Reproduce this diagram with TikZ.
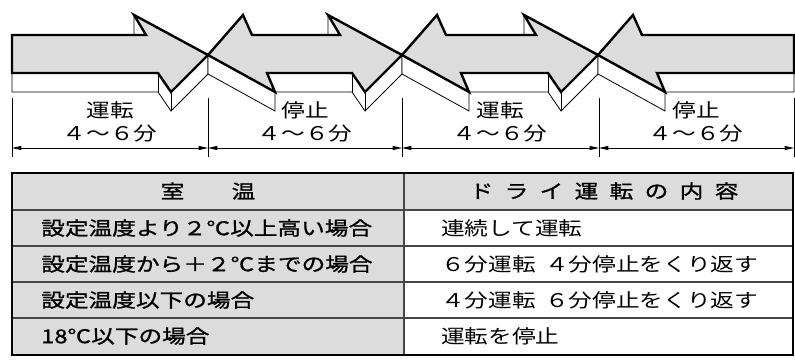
\documentclass[tikz,border=0pt]{standalone}
\usepackage{fontspec}
\usetikzlibrary{positioning}
\usetikzlibrary{arrows.meta}
\newfontfamily\jp{Noto Sans CJK JP}[FakeStretch=1.25]
\newfontfamily\jpb{Noto Sans CJK JP}[FakeStretch=1.25,FakeBold=1.2]
\definecolor{face}{RGB}{220,220,220}
\definecolor{rule}{RGB}{70,70,70}
\tikzstyle{top face} = [fill=face, draw, line width=1.8pt]
\tikzstyle{side face} = [fill=white, draw, line width=0.6pt]
\tikzstyle{thin} = [draw, line width=0.6pt]
\tikzstyle{span} = [<->, >={Triangle[length=7pt,width=3pt]}, draw, line width=0.6pt]
\tikzstyle{timetext} = [font=\jp\fontsize{14.2}{17}\selectfont, inner sep=0pt]
\tikzstyle{celltext} = [font=\jp\fontsize{14.2}{17}\selectfont, inner sep=0pt, anchor=west]
\tikzstyle{casetext} = [font=\jpb\fontsize{14.2}{17}\selectfont, inner sep=0pt, anchor=west]
\tikzstyle{headtext} = [font=\jpb\fontsize{14.2}{17}\selectfont, inner sep=0pt]

\begin{document}
\begin{tikzpicture}[x=0.75pt, y=-0.75pt, node distance=4pt]
        \useasboundingbox (0,0) rectangle (795,360);

        % sides of the arrows
        \draw[side face] (12,73) -- (12,92) -- (158,92) -- (171,111) -- (208,74) -- (208,55) -- (158,73) -- cycle;
        \draw[side face] (134,15) -- (134,35) -- (146,35) -- cycle;
        \draw[side face] (208,55) -- (208,74) -- (275,111) -- (275,92) -- (352,92) -- (365,111) -- (402,74) -- (402,55) -- cycle;
        \draw[side face] (328,15) -- (328,35) -- (340,35) -- cycle;
        \draw[side face] (402,55) -- (402,74) -- (469,111) -- (469,92) -- (548,92) -- (561,111) -- (598,74) -- (598,55) -- cycle;
        \draw[side face] (524,15) -- (524,35) -- (536,35) -- cycle;
        \draw[side face] (598,55) -- (598,74) -- (665,111) -- (665,92) -- (794,92) -- (794,55) -- cycle;
        \draw[thin] (158,73) -- (158,92) (171,92) -- (171,111);
        \draw[thin] (352,73) -- (352,92) (365,92) -- (365,111);
        \draw[thin] (548,73) -- (548,92) (561,92) -- (561,111);

        % tops of the arrows
        \draw[top face] (12,35) -- (146,35) -- (134,15) -- (208,55) -- (171,92) -- (158,73) -- (12,73) -- cycle;
        \draw[top face] (208,55) -- (243,15) -- (252,35) -- (340,35) -- (328,15) -- (402,55) -- (365,92) -- (352,73) -- (267,73) -- (275,92) -- cycle;
        \draw[top face] (402,55) -- (437,15) -- (446,35) -- (536,35) -- (524,15) -- (598,55) -- (561,92) -- (548,73) -- (461,73) -- (469,92) -- cycle;
        \draw[top face] (598,55) -- (633,15) -- (642,35) -- (794,35) -- (794,73) -- (657,73) -- (665,92) -- cycle;

        % times
        \coordinate (p0) at (12,148);
        \coordinate (p1) at (208,148);
        \coordinate (p2) at (402,148);
        \coordinate (p3) at (599,148);
        \coordinate (p4) at (794,148);
        \draw[thin] (p0) ++(0,-50) -- ++(0,59);
        \draw[thin] (p1) ++(0,-50) -- ++(0,59);
        \draw[thin] (p2) ++(0,-50) -- ++(0,59);
        \draw[thin] (p3) ++(0,-50) -- ++(0,59);
        \draw[thin] (p4) ++(0,-50) -- ++(0,59);
        \draw[span] (p0) -- (p1);
        \draw[span] (p1) -- (p2);
        \draw[span] (p2) -- (p3);
        \draw[span] (p3) -- (p4);

        \node[timetext] (run1) at (110,110) {運転};
        \node[timetext] (time1) [below=of run1] {４〜６分};
        \node[timetext] (stop1) at (305,110) {停止};
        \node[timetext] (time2) [below=of stop1] {４〜６分};
        \node[timetext] (run2) at (500,110) {運転};
        \node[timetext] (time3) [below=of run2] {４〜６分};
        \node[timetext] (stop2) at (696,110) {停止};
        \node[timetext] (time4) [below=of stop2] {４〜６分};

        % table
        \fill[face] (12,173) rectangle (793,210);
        \fill[face] (12,210) rectangle (404,355);
        \draw[rule, line width=0.8pt] (12,210) -- (793,210);
        \draw[rule, line width=0.8pt] (12,246) -- (793,246);
        \draw[rule, line width=0.8pt] (12,282) -- (793,282);
        \draw[rule, line width=0.8pt] (12,318) -- (793,318);
        \draw[rule, line width=0.8pt] (404,173) -- (404,355);
        \draw[line width=1.6pt] (12,173) rectangle (793,355);

        \node[headtext] (room) at (208,191) {室　　温};
        \node[headtext] (mode) at (604,191) {ド\hspace{8.5pt}ラ\hspace{8.5pt}イ\hspace{8.5pt}運\hspace{8.5pt}転\hspace{8.5pt}の\hspace{8.5pt}内\hspace{8.5pt}容};
        \node[casetext] (case1) at (41,228) {設定温度より２℃以上高い場合};
        \node[casetext] (case2) at (41,264) {設定温度から＋２℃までの場合};
        \node[casetext] (case3) at (41,300) {設定温度以下の場合};
        \node[casetext] (case4) at (41,336) {18℃以下の場合};
        \node[celltext] (act1) at (441,228) {連続して運転};
        \node[celltext] (act2) at (441,264) {６分運転\hspace{7pt}４分停止をくり返す};
        \node[celltext] (act3) at (441,300) {４分運転\hspace{7pt}６分停止をくり返す};
        \node[celltext] (act4) at (441,336) {運転を停止};
    \end{tikzpicture}
\end{document}
